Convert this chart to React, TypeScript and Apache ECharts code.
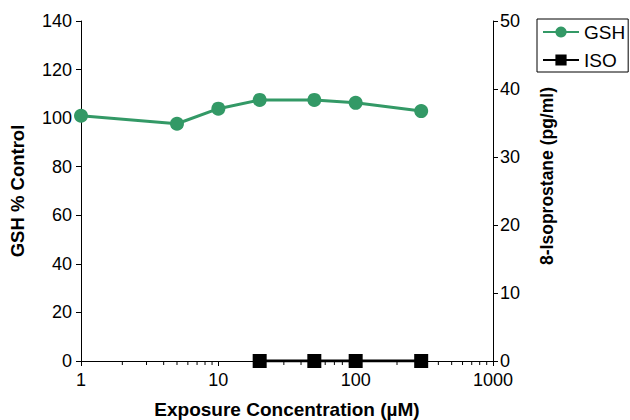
import React, { useEffect, useRef } from "react";
import * as echarts from "echarts";

const concGSH = [1, 5, 10, 20, 50, 100, 300];
const gshValues = [101, 97.7, 103.9, 107.5, 107.5, 106.3, 102.9];
const concISO = [20, 50, 100, 300];
const isoValues = [0, 0, 0, 0];
const minorTicks = [2, 3, 4, 5, 6, 7, 8, 9, 20, 30, 40, 50, 60, 70, 80, 90, 200, 300, 400, 500, 600, 700, 800, 900];

const FONT = "Liberation Sans, Arial, Helvetica, sans-serif";
const GREEN = "#339966";

export default function App() {
  const ref = useRef<HTMLDivElement>(null);
  useEffect(() => {
    if (!ref.current) return;
    const chart = echarts.init(ref.current, null, { renderer: "svg" });
    chart.setOption({
      animation: false,
      textStyle: { fontFamily: FONT },
      grid: { left: 81, right: 137, top: 21, bottom: 59, containLabel: false, outerBoundsMode: "none" },
      legend: {
        orient: "vertical",
        left: 537,
        top: 19,
        borderColor: "#000",
        borderWidth: 1,
        padding: [3, 3, 2, 5],
        itemGap: 8,
        itemWidth: 36,
        itemHeight: 14,
        textStyle: { fontSize: 19, lineHeight: 20, color: "#000", fontFamily: FONT },
        data: ["GSH", "ISO"],
      },
      xAxis: {
        type: "log",
        logBase: 10,
        min: 1,
        max: 1000,
        name: "Exposure Concentration (µM)",
        nameLocation: "middle",
        nameGap: 39,
        nameTextStyle: { fontSize: 19, lineHeight: 19, fontWeight: "bold", color: "#000", fontFamily: FONT },
        axisLine: { lineStyle: { color: "#000", width: 1 } },
        axisTick: { show: true, length: 5, lineStyle: { color: "#000" } },
        axisLabel: { fontSize: 18, color: "#000", margin: 10, fontFamily: FONT, formatter: (v: number) => String(v) },
        splitLine: { show: false },
        minorTick: { show: false },
      },
      yAxis: [
        {
          type: "value",
          min: 0,
          max: 140,
          interval: 20,
          name: "GSH % Control",
          nameLocation: "middle",
          nameGap: 54,
          nameTextStyle: { fontSize: 18.5, fontWeight: "bold", color: "#000", fontFamily: FONT },
          axisLine: { show: true, lineStyle: { color: "#000", width: 1 } },
          axisTick: { show: true, length: 5, lineStyle: { color: "#000" } },
          axisLabel: { fontSize: 18, color: "#000", margin: 9, fontFamily: FONT },
          splitLine: { show: false },
        },
        {
          type: "value",
          min: 0,
          max: 50,
          interval: 10,
          position: "right",
          name: "8-Isoprostane (pg/ml)",
          nameLocation: "middle",
          nameGap: 45,
          nameRotate: 90,
          nameTextStyle: { fontSize: 17.5, fontWeight: "bold", color: "#000", fontFamily: FONT, padding: [0, 0, 0, 30] },
          axisLine: { show: true, lineStyle: { color: "#000", width: 1 } },
          axisTick: { show: true, length: 5, lineStyle: { color: "#000" } },
          axisLabel: { fontSize: 18, color: "#000", margin: 7, fontFamily: FONT },
          splitLine: { show: false },
        },
      ],
      series: [
        {
          name: "minorTicks",
          type: "custom",
          xAxisIndex: 0,
          yAxisIndex: 0,
          silent: true,
          clip: false,
          data: minorTicks.map((v) => [v, 0]),
          renderItem: (params: any, api: any) => {
            const p = api.coord([api.value(0), api.value(1)]);
            return {
              type: "line",
              shape: { x1: p[0], y1: p[1], x2: p[0], y2: p[1] + 4 },
              style: { stroke: "#000", lineWidth: 1 },
            };
          },
        },
        {
          name: "GSH",
          type: "line",
          yAxisIndex: 0,
          data: concGSH.map((c, i) => [c, gshValues[i]]),
          symbol: "circle",
          symbolSize: 14,
          lineStyle: { color: GREEN, width: 3 },
          itemStyle: { color: GREEN },
          z: 3,
        },
        {
          name: "ISO",
          type: "line",
          yAxisIndex: 1,
          data: concISO.map((c, i) => [c, isoValues[i]]),
          symbol: "rect",
          symbolSize: 14,
          lineStyle: { color: "#000", width: 3 },
          itemStyle: { color: "#000" },
          z: 4,
        },
      ],
    });
    return () => chart.dispose();
  }, []);
  return <div ref={ref} style={{ position: "absolute", left: 0, top: 0, width: 630, height: 420 }} />;
}
